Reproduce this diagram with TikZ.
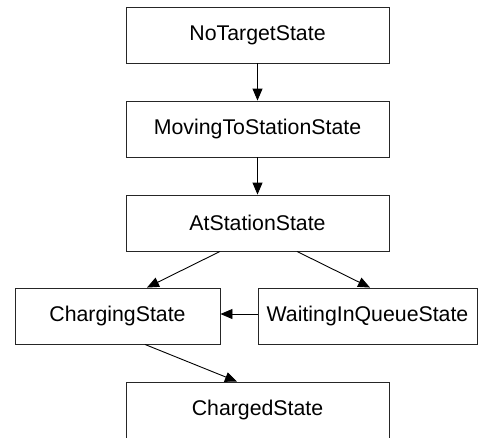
\documentclass[tikz,border=0pt]{standalone}
\usepackage{fontspec}
\setmainfont{Liberation Sans}
\usetikzlibrary{arrows.meta}
\begin{document}
\begin{tikzpicture}[x=1pt,y=-1pt,
  statebox/.style={draw=black!85,line width=0.9pt,minimum height=56pt,inner sep=0pt,font=\fontsize{21.3}{25}\selectfont},
  conn/.style={draw=black,line width=0.9pt,-{Triangle[length=12pt,width=10pt]}}]
\useasboundingbox (0,0) rectangle (478,437);
\clip (0,0) rectangle (478,437);
\node[statebox,minimum width=263pt] (nt) at (257.5,35) {NoTargetState};
\node[statebox,minimum width=263pt] (mv) at (257.5,129) {MovingToStationState};
\node[statebox,minimum width=263pt] (at) at (257.5,223) {AtStationState};
\node[statebox,minimum width=205pt] (ch) at (117.5,316) {ChargingState};
\node[statebox,minimum width=219pt] (wq) at (367.5,316) {WaitingInQueueState};
\node[statebox,minimum width=263pt] (cd) at (257.5,410) {ChargedState};
\draw[conn] (nt.south) -- (mv.north);
\draw[conn] (mv.south) -- (at.north);
\draw[conn] ([xshift=-37.5pt]at.south) -- ([xshift=29.5pt]ch.north);
\draw[conn] ([xshift=39.5pt]at.south) -- ([xshift=2.5pt]wq.north);
\draw[conn] ([yshift=2pt]wq.west) -- ([yshift=2pt]ch.east);
\draw[conn] ([xshift=27.5pt]ch.south) -- ([xshift=-20.5pt]cd.north);
\end{tikzpicture}
\end{document}
